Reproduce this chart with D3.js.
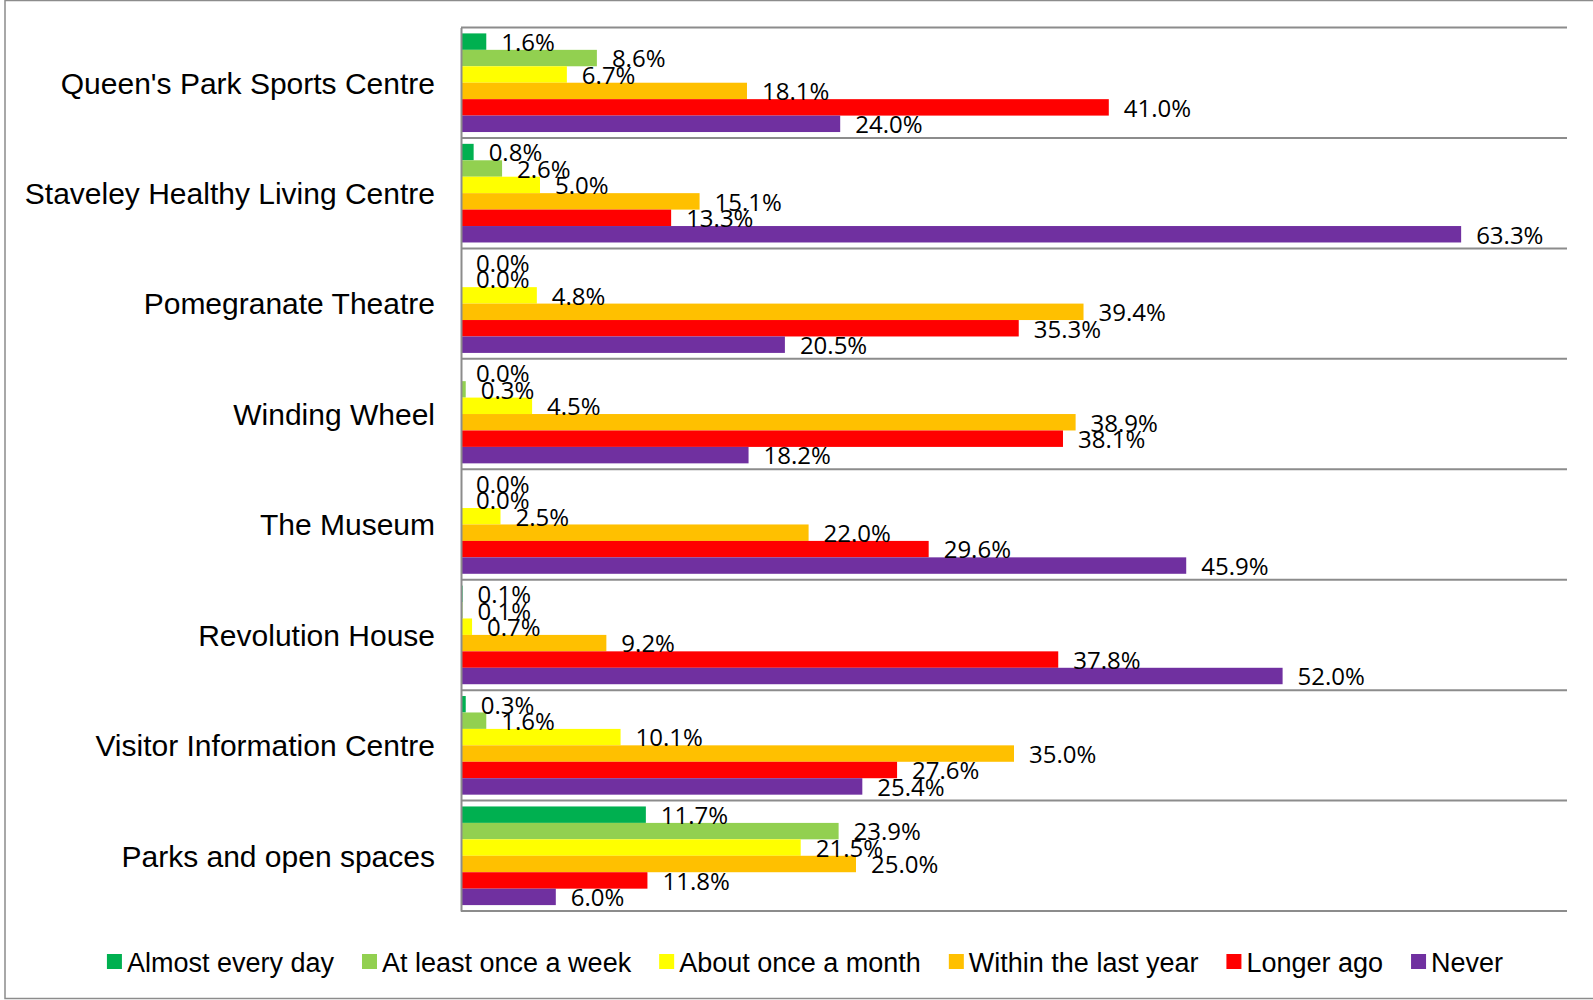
<!DOCTYPE html>
<html>
<head>
<meta charset="utf-8">
<script src="https://cdn.jsdelivr.net/npm/d3@7"></script>
<style>
  body { margin: 0; background: #fff; }
</style>
</head>
<body>
<div id="chart"></div>
<script>
// categories, top to bottom
const categories = [
  "Queen's Park Sports Centre",
  "Staveley Healthy Living Centre",
  "Pomegranate Theatre",
  "Winding Wheel",
  "The Museum",
  "Revolution House",
  "Visitor Information Centre",
  "Parks and open spaces"
];

const seriesNames = [
  "Almost every day",
  "At least once a week",
  "About once a month",
  "Within the last year",
  "Longer ago",
  "Never"
];
const seriesColors = ["#00B050", "#92D050", "#FFFF00", "#FFC000", "#FF0000", "#7030A0"];

// values in %, same order as categories
const almostEveryDay = [1.6, 0.8, 0.0, 0.0, 0.0, 0.1, 0.3, 11.7];
const atLeastWeekly  = [8.6, 2.6, 0.0, 0.3, 0.0, 0.1, 1.6, 23.9];
const aboutMonthly   = [6.7, 5.0, 4.8, 4.5, 2.5, 0.7, 10.1, 21.5];
const withinYear     = [18.1, 15.1, 39.4, 38.9, 22.0, 9.2, 35.0, 25.0];
const longerAgo      = [41.0, 13.3, 35.3, 38.1, 29.6, 37.8, 27.6, 11.8];
const never          = [24.0, 63.3, 20.5, 18.2, 45.9, 52.0, 25.4, 6.0];

const xMax = 70;

const seriesValues = [almostEveryDay, atLeastWeekly, aboutMonthly, withinYear, longerAgo, never];

// flat table for the bars
const table = [];
categories.forEach((c, i) => {
  seriesNames.forEach((s, j) => {
    table.push({ category: c, series: s, value: seriesValues[j][i], color: seriesColors[j] });
  });
});

//Set dimensions
const dimensions = {
  width: 1593,
  height: 1000,
  margins: { top: 27.5, right: 26, bottom: 89, left: 461 }
};
dimensions.boundedWidth = dimensions.width - dimensions.margins.left - dimensions.margins.right;
dimensions.boundedHeight = dimensions.height - dimensions.margins.top - dimensions.margins.bottom;

const svg = d3.select("#chart")
  .append("svg")
  .attr("width", dimensions.width)
  .attr("height", dimensions.height)
  .style("display", "block")
  .style("background-color", "white");

// outer chart border
svg.append("rect")
  .attr("x", 5)
  .attr("y", 0.5)
  .attr("width", 1620)
  .attr("height", 998)
  .attr("fill", "none")
  .attr("stroke", "#8c8c8c")
  .attr("stroke-width", 1.5);

const bounds = svg.append("g")
  .attr("transform", `translate(${dimensions.margins.left},${dimensions.margins.top})`);

//Create scales
const xScale = d3.scaleLinear()
  .domain([0, xMax])
  .range([0, dimensions.boundedWidth]);

const yScale = d3.scaleBand()
  .domain(categories)
  .range([0, dimensions.boundedHeight])
  .padding(0);

const barPad = 5.9;
const ySeries = d3.scaleBand()
  .domain(seriesNames)
  .range([barPad, yScale.bandwidth() - barPad])
  .padding(0);

// category boundary lines
const boundaries = categories.map((c) => yScale(c)).concat([yScale.range()[1]]);
bounds.append("g")
  .selectAll("line")
  .data(boundaries)
  .join("line")
  .attr("x1", 0)
  .attr("x2", dimensions.boundedWidth)
  .attr("y1", (d) => d)
  .attr("y2", (d) => d)
  .attr("stroke", "#8c8c8c")
  .attr("stroke-width", 2);

//Draw bars
const bars = bounds.append("g");
bars.selectAll("rect")
  .data(table)
  .join("rect")
  .attr("x", 0)
  .attr("y", (d) => yScale(d.category) + ySeries(d.series))
  .attr("width", (d) => xScale(d.value))
  .attr("height", ySeries.bandwidth())
  .attr("fill", (d) => d.color);

// data labels
const fmt = d3.format(".1f");
bounds.append("g")
  .selectAll("text")
  .data(table)
  .join("text")
  .attr("x", (d) => xScale(d.value) + 15)
  .attr("y", (d) => yScale(d.category) + ySeries(d.series) + ySeries.bandwidth() / 2 + 9.3)
  .attr("font-family", "'Open Sans', sans-serif")
  .attr("font-size", 24)
  .attr("fill", "#000")
  .text((d) => fmt(d.value) + "%");

//Draw axis
const yAxis = d3.axisLeft(yScale)
  .tickSizeInner(0)
  .tickSizeOuter(0)
  .tickPadding(26);

bounds.append("g")
  .call(yAxis)
  .call((g) => g.select(".domain").attr("stroke", "#8c8c8c").attr("stroke-width", 2))
  .call((g) => g.selectAll(".tick text")
    .attr("fill", "#000")
    .attr("dy", "0.36em"))
  .attr("font-family", "'Liberation Sans', Arial, sans-serif")
  .attr("font-size", 30);

//Legend
const legend = svg.append("g")
  .attr("font-family", "'Liberation Sans', Arial, sans-serif")
  .attr("font-size", 27);

const items = legend.selectAll("g")
  .data(seriesNames)
  .join("g");

items.append("rect")
  .attr("y", -17.5)
  .attr("width", 15)
  .attr("height", 15)
  .attr("fill", (d, i) => seriesColors[i]);

items.append("text")
  .attr("x", 20)
  .attr("fill", "#000")
  .text((d) => d);

let offset = 0;
const gapBetween = 28;
const positions = [];
items.each(function () {
  const w = 20 + d3.select(this).select("text").node().getComputedTextLength();
  positions.push(offset);
  offset += w + gapBetween;
});
const totalWidth = offset - gapBetween;
const legendStart = 805 - totalWidth / 2;
items.attr("transform", (d, i) => `translate(${legendStart + positions[i]},971.5)`);
</script>
</body>
</html>
